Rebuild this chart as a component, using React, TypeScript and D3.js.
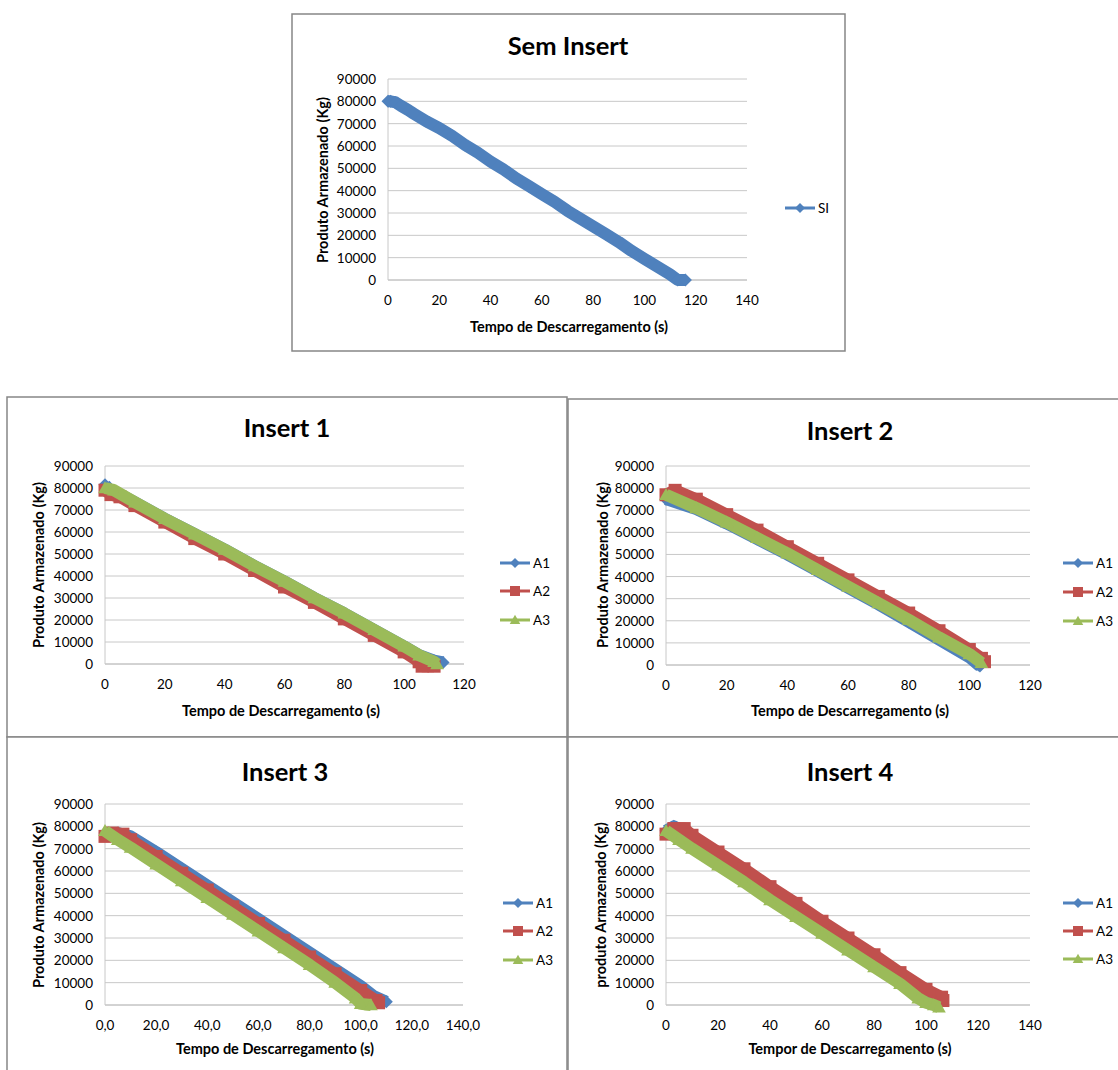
import React from "react";
import * as d3 from "d3";

// ---------- DATA (time s, stored kg) ----------
const semInsertSI: [number, number][] = [
  [0, 80000], [1, 80000], [3, 79500], [5, 78000], [8, 76000], [10, 74500], [15, 71000],
  [20, 68000], [25, 64500], [30, 60500], [35, 57000], [40, 53000], [45, 49500], [50, 45500],
  [55, 42000], [60, 38500], [65, 35000], [70, 31000], [75, 27500], [80, 24000], [85, 20500],
  [90, 17000], [95, 13000], [100, 9500], [105, 6000], [110, 2500], [113, 0], [116, 0],
];

const insert1A1: [number, number][] = [
  [0, 81500], [1, 80000], [10, 73500], [20, 66000], [30, 59000], [40, 52000], [50, 44500],
  [60, 37500], [70, 30000], [80, 23000], [90, 15500], [100, 8000], [105, 4000], [110, 1500], [113, 700],
];
const insert1A2: [number, number][] = [
  [0, 79000], [2, 77000], [5, 76000], [10, 72000], [20, 64500], [30, 57000], [40, 50000],
  [50, 42500], [60, 35000], [70, 28000], [80, 20500], [90, 13000], [100, 5500], [105, 1000],
  [106, -1000], [110, -1000],
];
const insert1A3: [number, number][] = [
  [0, 80000], [3, 79000], [10, 73500], [20, 66000], [30, 59000], [40, 52000], [50, 44500],
  [60, 37500], [70, 30000], [80, 23000], [90, 15500], [100, 8000], [105, 4000], [110, 1000], [111, 0],
];

const insert2A1: [number, number][] = [
  [0, 75000], [10, 70500], [20, 64000], [30, 57000], [40, 50000], [50, 42500], [60, 35000],
  [70, 27500], [80, 19500], [90, 11500], [100, 3500], [103, 0], [103.5, -500],
];
const insert2A2: [number, number][] = [
  [0, 77000], [3, 79000], [10, 75000], [20, 68000], [30, 61000], [40, 53500], [50, 46000],
  [60, 38500], [70, 31000], [80, 23500], [90, 15500], [100, 7000], [104, 3000], [105, 1500],
];
const insert2A3: [number, number][] = [
  [0, 77000], [10, 71000], [20, 64500], [30, 57500], [40, 50500], [50, 43000], [60, 35500],
  [70, 28000], [80, 20500], [90, 12500], [100, 5000], [104, 1000],
];

const insert3A1: [number, number][] = [
  [0, 77000], [5, 77000], [10, 75500], [20, 68500], [30, 61000], [40, 53500], [50, 46000],
  [60, 38500], [70, 31000], [80, 23500], [90, 16000], [100, 8500], [105, 4000], [110, 1500],
];
const insert3A2: [number, number][] = [
  [0, 75500], [3, 77000], [7, 76500], [10, 74000], [20, 66500], [30, 59000], [40, 51500],
  [50, 44000], [60, 36500], [70, 29000], [80, 21500], [90, 14000], [100, 6500], [106, 2000], [107, 1000],
];
const insert3A3: [number, number][] = [
  [0, 78000], [5, 74000], [10, 70500], [20, 63000], [30, 55500], [40, 48000], [50, 40500],
  [60, 33000], [70, 25500], [80, 18000], [90, 10000], [98, 3000], [100, 500], [104, 0],
];

const insert4A1: [number, number][] = [
  [0, 78000], [3, 80000], [10, 75500], [20, 68000], [30, 60500], [40, 52500], [50, 45000],
  [60, 37000], [70, 29500], [80, 22000], [90, 14000], [100, 6500], [105, 3000],
];
const insert4A2: [number, number][] = [
  [0, 76500], [3, 79000], [7, 79000], [10, 76000], [20, 68500], [30, 61000], [40, 53000],
  [50, 45500], [60, 37500], [70, 30000], [80, 22500], [90, 14500], [100, 7000], [106, 3500], [106.5, 2000],
];
const insert4A3: [number, number][] = [
  [0, 78000], [5, 74000], [10, 70000], [20, 62500], [30, 55000], [40, 47000], [50, 39500],
  [60, 32000], [70, 24500], [80, 17000], [90, 9500], [97, 3000], [100, 1000], [103, 0], [105, -1000],
];

const yTicks = [0, 10000, 20000, 30000, 40000, 50000, 60000, 70000, 80000, 90000];
const xTicks120 = [0, 20, 40, 60, 80, 100, 120];
const xTicks140 = [0, 20, 40, 60, 80, 100, 120, 140];

const titles = ["Sem Insert", "Insert 1", "Insert 2", "Insert 3", "Insert 4"];
const seriesNamesSI = ["SI"];
const seriesNamesA = ["A1", "A2", "A3"];

// ---------- STYLE ----------
const FONT = "Lato, 'Open Sans', sans-serif";
const COLORS: Record<string, string> = { blue: "#4f81bd", red: "#c0504d", green: "#9bbb59" };
type Shape = "diamond" | "square" | "triangle";

function markerPath(shape: Shape, r: number) {
  if (shape === "diamond") return `M0,${-r}L${r},0L0,${r}L${-r},0Z`;
  if (shape === "square") return `M${-r},${-r}H${r}V${r}H${-r}Z`;
  return `M0,${-r * 1.05}L${r * 1.05},${r * 0.8}L${-r * 1.05},${r * 0.8}Z`;
}

interface Series { name: string; data: [number, number][]; color: string; shape: Shape }
interface ChartCfg {
  box: [number, number, number, number];
  plot: { x0: number; x1: number; yTop: number; yBot: number };
  xMax: number;
  xTicks: number[];
  xFmt: (v: number) => string;
  title: string;
  titleX: number; titleY: number;
  xTitle: string; xTitleX: number; xTitleY: number;
  yTitle: string; yTitleX: number; yTitleY: number;
  series: Series[];
  legendX: number; legendYs: number[];
}

function Chart({ c }: { c: ChartCfg }) {
  const x = d3.scaleLinear().domain([0, c.xMax]).range([c.plot.x0, c.plot.x1]);
  const y = d3.scaleLinear().domain([0, 90000]).range([c.plot.yBot, c.plot.yTop]);
  const line = d3.line<[number, number]>().x(d => x(d[0])).y(d => y(d[1]));
  const [bx, by, bw, bh] = c.box;
  return (
    <g>
      <rect x={bx} y={by} width={bw} height={bh} fill="#fff" stroke="#868686" strokeWidth={1.5} />
      <text x={c.titleX} y={c.titleY} textAnchor="middle" dominantBaseline="central"
        fontFamily={FONT} fontWeight="bold" fontSize={25.5} fill="#000">{c.title}</text>
      {yTicks.map(t => (
        <g key={t}>
          <line x1={c.plot.x0} x2={c.plot.x1} y1={y(t)} y2={y(t)} stroke={t === 0 ? "#a6a6a6" : "#c8c8c8"} strokeWidth={1} />
          <text x={c.plot.x0 - 12} y={y(t)} textAnchor="end" dominantBaseline="central"
            fontFamily={FONT} fontSize={13.5} fill="#000">{t}</text>
        </g>
      ))}
      <line x1={c.plot.x0} x2={c.plot.x0} y1={c.plot.yTop} y2={c.plot.yBot} stroke="#c8c8c8" />
      {c.xTicks.map(t => (
        <text key={t} x={x(t)} y={c.plot.yBot + 20} textAnchor="middle" dominantBaseline="central"
          fontFamily={FONT} fontSize={13.5} fill="#000">{c.xFmt(t)}</text>
      ))}
      <text x={c.xTitleX} y={c.xTitleY} textAnchor="middle" dominantBaseline="central"
        fontFamily={FONT} fontWeight="bold" fontSize={14.5} fill="#000">{c.xTitle}</text>
      <text transform={`translate(${c.yTitleX},${c.yTitleY}) rotate(-90)`} textAnchor="middle"
        dominantBaseline="central" fontFamily={FONT} fontWeight="bold" fontSize={14.5} fill="#000">{c.yTitle}</text>
      {c.series.map(s => (
        <g key={s.name}>
          <path d={line(s.data) || ""} fill="none" stroke={s.color} strokeWidth={12} strokeLinejoin="round" />
          {s.data.map((d, i) => (
            <path key={i} d={markerPath(s.shape, 6.5)} transform={`translate(${x(d[0])},${y(d[1])})`} fill={s.color} />
          ))}
        </g>
      ))}
      {c.series.map((s, i) => (
        <g key={"lg" + s.name} transform={`translate(${c.legendX},${c.legendYs[i]})`}>
          <line x1={0} x2={30} y1={0} y2={0} stroke={s.color} strokeWidth={3} />
          <path d={markerPath(s.shape, 5)} transform="translate(15,0)" fill={s.color} />
          <text x={33} y={0} dominantBaseline="central" fontFamily={FONT} fontSize={13.5} fill="#000">{s.name}</text>
        </g>
      ))}
    </g>
  );
}

const intFmt = (v: number) => String(v);
const decFmt = (v: number) => v.toFixed(1).replace(".", ",");
const abc = (d: [number, number][][]): Series[] => [
  { name: seriesNamesA[0], data: d[0], color: COLORS.blue, shape: "diamond" },
  { name: seriesNamesA[1], data: d[1], color: COLORS.red, shape: "square" },
  { name: seriesNamesA[2], data: d[2], color: COLORS.green, shape: "triangle" },
];

const charts: ChartCfg[] = [
  {
    box: [292, 14, 553, 337], plot: { x0: 388, x1: 747, yTop: 79, yBot: 280 }, xMax: 140,
    xTicks: xTicks140, xFmt: intFmt, title: titles[0], titleX: 568, titleY: 45,
    xTitle: "Tempo de Descarregamento (s)", xTitleX: 569, xTitleY: 326,
    yTitle: "Produto Armazenado (Kg)", yTitleX: 322, yTitleY: 180,
    series: [{ name: seriesNamesSI[0], data: semInsertSI, color: COLORS.blue, shape: "diamond" }],
    legendX: 785, legendYs: [208],
  },
  {
    box: [7, 397, 560, 340], plot: { x0: 105, x1: 464, yTop: 466, yBot: 664 }, xMax: 120,
    xTicks: xTicks120, xFmt: intFmt, title: titles[1], titleX: 287, titleY: 427,
    xTitle: "Tempo de Descarregamento (s)", xTitleX: 281, xTitleY: 710,
    yTitle: "Produto Armazenado (Kg)", yTitleX: 38, yTitleY: 565,
    series: abc([insert1A1, insert1A2, insert1A3]), legendX: 500, legendYs: [563, 591, 620],
  },
  {
    box: [568, 399, 560, 338], plot: { x0: 666, x1: 1030, yTop: 466, yBot: 665 }, xMax: 120,
    xTicks: xTicks120, xFmt: intFmt, title: titles[2], titleX: 850, titleY: 430,
    xTitle: "Tempo de Descarregamento (s)", xTitleX: 850, xTitleY: 710,
    yTitle: "Produto Armazenado (Kg)", yTitleX: 602, yTitleY: 565,
    series: abc([insert2A1, insert2A2, insert2A3]), legendX: 1063, legendYs: [563, 592, 621],
  },
  {
    box: [7, 737, 560, 340], plot: { x0: 105, x1: 463, yTop: 804, yBot: 1005 }, xMax: 140,
    xTicks: xTicks140, xFmt: decFmt, title: titles[3], titleX: 285, titleY: 771,
    xTitle: "Tempo de Descarregamento (s)", xTitleX: 275, xTitleY: 1048,
    yTitle: "Produto Armazenado (Kg)", yTitleX: 38, yTitleY: 905,
    series: abc([insert3A1, insert3A2, insert3A3]), legendX: 503, legendYs: [903, 931, 960],
  },
  {
    box: [568, 737, 560, 340], plot: { x0: 666, x1: 1030, yTop: 804, yBot: 1005 }, xMax: 140,
    xTicks: xTicks140, xFmt: intFmt, title: titles[4], titleX: 850, titleY: 771,
    xTitle: "Tempor de Descarregamento (s)", xTitleX: 850, xTitleY: 1048,
    yTitle: "produto Armazenado (Kg)", yTitleX: 600, yTitleY: 905,
    series: abc([insert4A1, insert4A2, insert4A3]), legendX: 1063, legendYs: [903, 931, 959],
  },
];

export default function App() {
  return (
    <svg width={1118} height={1070} viewBox="0 0 1118 1070"
      style={{ position: "absolute", left: 0, top: 0, background: "#fff" }}>
      <rect x={0} y={0} width={1118} height={1070} fill="#fff" />
      {charts.map((c, i) => <Chart key={i} c={c} />)}
    </svg>
  );
}
